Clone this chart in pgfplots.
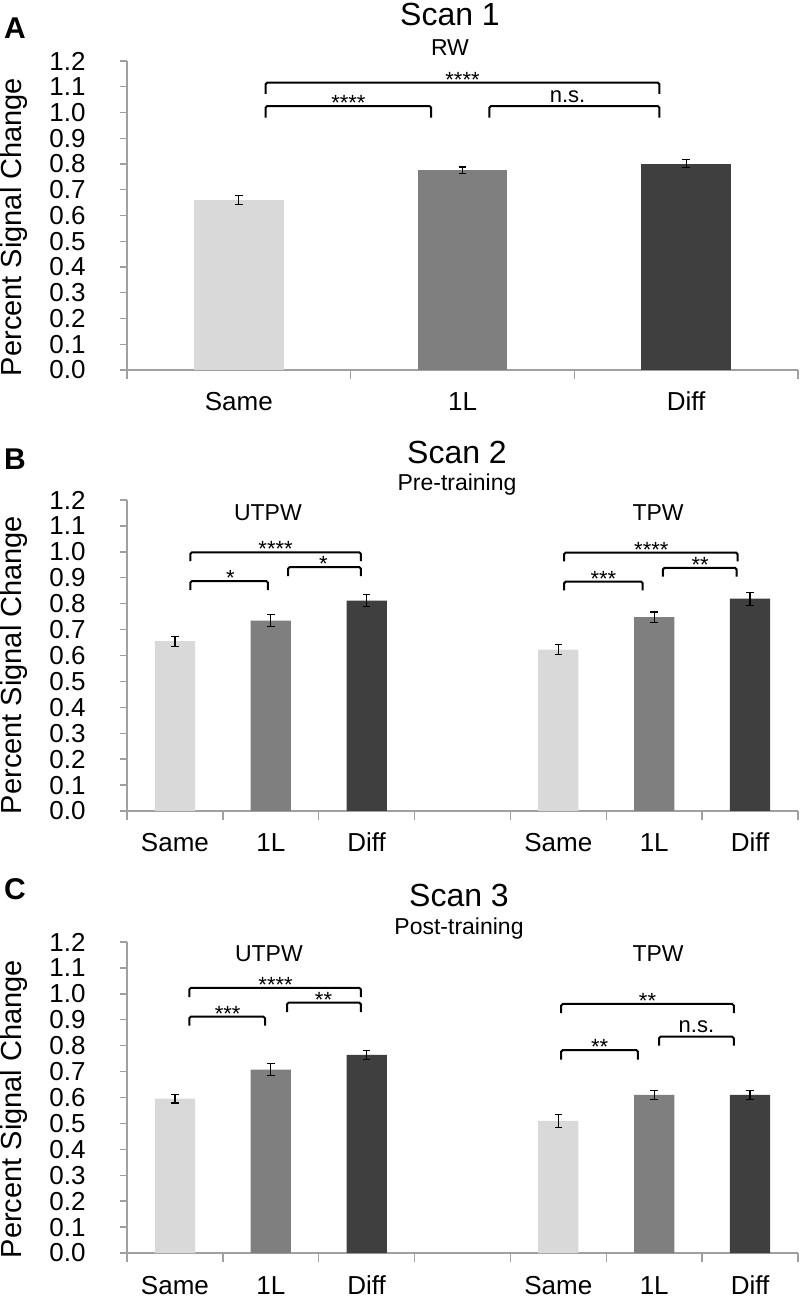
\documentclass[border=0pt]{standalone}
\usepackage{pgfplots}
\pgfplotsset{compat=1.18}
\usepackage{fontspec}
\setmainfont{Liberation Sans}
\newcommand{\fs}[1]{\fontsize{#1}{#1}\selectfont}
\definecolor{cSame}{HTML}{D9D9D9}
\definecolor{cOne}{HTML}{7F7F7F}
\definecolor{cDiff}{HTML}{3F3F3F}
\definecolor{axgray}{HTML}{A0A0A0}
\tikzset{
  brk/.style={draw=black, line width=1pt, rounded corners=0.8pt},
  star/.style={font=\fs{11}, anchor=base, inner sep=0pt, yshift=-2.3pt},
  ns/.style={font=\fs{11}, anchor=base, inner sep=0pt, yshift=1.8pt},
  grp/.style={font=\fs{11.5}, anchor=center, inner sep=0pt},
}
\pgfplotsset{
  panel/.style={
    scale only axis, width=335.5pt,
    ybar, bar width=0.4, bar shift=0pt,
    ymin=0, ymax=1.2,
    ytick={0,0.1,0.2,0.3,0.4,0.5,0.6,0.7,0.8,0.9,1.0,1.1,1.2},
    /pgf/number format/assume math mode=true,
    /pgf/number format/fixed, /pgf/number format/fixed zerofill, /pgf/number format/precision=1,
    every y tick label/.append style={font=\fs{13}, anchor=east, inner sep=0pt, xshift=-17pt},
    every x tick label/.append style={font=\fs{13}, inner sep=0pt, anchor=base, yshift=-17pt},
    axis x line=bottom, axis y line=left,
    axis line style={-, draw=axgray, line width=0.7pt},
    tick align=outside,
    major tick length=3.5pt, minor tick length=4.5pt,
    ytick style={draw=axgray, line width=0.7pt},
    major x tick style={draw=none},
    minor x tick style={draw=axgray, line width=0.7pt},
    enlargelimits=false, clip=false,
    every axis plot/.append style={draw=none,
      error bars/y dir=both, error bars/y explicit,
      error bars/error bar style={draw=black, line width=0.6pt},
      error bars/error mark options={draw=black, line width=0.6pt, mark size=1.9pt, rotate=90}},
  },
}
\begin{document}
\begin{tikzpicture}
\useasboundingbox (0,0) rectangle (400pt,649.5pt);

% ---------------- Panel A ----------------
\begin{axis}[panel, at={(63.5pt,464.5pt)}, anchor=south west, height=154.5pt,
  xmin=-0.5, xmax=2.5, xtick={0,1,2}, xticklabels={Same,1L,Diff},
  minor xtick={-0.5,0.5,1.5,2.5}]
\addplot[fill=cSame] coordinates {(0,0.659) +- (0,0.0175)};
\addplot[fill=cOne] coordinates {(1,0.775) +- (0,0.013)};
\addplot[fill=cDiff] coordinates {(2,0.801) +- (0,0.016)};
\draw[brk] (axis cs:0.12,1.072) -- (axis cs:0.12,1.116) -- (axis cs:1.88,1.116) -- (axis cs:1.88,1.072);
\draw[brk] (axis cs:0.12,0.980) -- (axis cs:0.12,1.025) -- (axis cs:0.86,1.025) -- (axis cs:0.86,0.980);
\draw[brk] (axis cs:1.12,0.980) -- (axis cs:1.12,1.025) -- (axis cs:1.88,1.025) -- (axis cs:1.88,0.980);
\node[star] at (axis cs:1.0,1.116) {****};
\node[star] at (axis cs:0.49,1.025) {****};
\node[ns] at (axis cs:1.47,1.025) {n.s.};
\end{axis}

% ---------------- Panel B ----------------
\begin{axis}[panel, at={(63.5pt,244pt)}, anchor=south west, height=155.5pt,
  bar width=0.42,
  xmin=-0.5, xmax=6.5, xtick={0,1,2,4,5,6}, xticklabels={Same,1L,Diff,Same,1L,Diff},
  minor xtick={-0.5,0.5,1.5,2.5,3.5,4.5,5.5,6.5}]
\addplot[fill=cSame] coordinates {(0,0.655) +- (0,0.019) (4,0.623) +- (0,0.019)};
\addplot[fill=cOne] coordinates {(1,0.735) +- (0,0.022) (5,0.748) +- (0,0.020)};
\addplot[fill=cDiff] coordinates {(2,0.812) +- (0,0.022) (6,0.819) +- (0,0.025)};
\node[grp] at (axis cs:0.97,1.15) {UTPW};
\node[grp] at (axis cs:5.04,1.15) {TPW};
% UTPW brackets
\draw[brk] (axis cs:0.16,0.964) -- (axis cs:0.16,0.998) -- (axis cs:1.94,0.998) -- (axis cs:1.94,0.964);
\draw[brk] (axis cs:0.16,0.852) -- (axis cs:0.16,0.887) -- (axis cs:0.97,0.887) -- (axis cs:0.97,0.852);
\draw[brk] (axis cs:1.18,0.906) -- (axis cs:1.18,0.941) -- (axis cs:1.94,0.941) -- (axis cs:1.94,0.906);
\node[star] at (axis cs:1.05,0.998) {****};
\node[star] at (axis cs:0.58,0.887) {*};
\node[star] at (axis cs:1.55,0.941) {*};
% TPW brackets
\draw[brk] (axis cs:4.06,0.963) -- (axis cs:4.06,0.997) -- (axis cs:5.87,0.997) -- (axis cs:5.87,0.963);
\draw[brk] (axis cs:4.06,0.851) -- (axis cs:4.06,0.885) -- (axis cs:4.88,0.885) -- (axis cs:4.88,0.851);
\draw[brk] (axis cs:5.09,0.904) -- (axis cs:5.09,0.938) -- (axis cs:5.86,0.938) -- (axis cs:5.86,0.904);
\node[star] at (axis cs:4.97,0.997) {****};
\node[star] at (axis cs:4.47,0.885) {***};
\node[star] at (axis cs:5.48,0.938) {**};
\end{axis}

% ---------------- Panel C ----------------
\begin{axis}[panel, at={(63.5pt,23pt)}, anchor=south west, height=155.5pt,
  bar width=0.42,
  xmin=-0.5, xmax=6.5, xtick={0,1,2,4,5,6}, xticklabels={Same,1L,Diff,Same,1L,Diff},
  minor xtick={-0.5,0.5,1.5,2.5,3.5,4.5,5.5,6.5}]
\addplot[fill=cSame] coordinates {(0,0.596) +- (0,0.017) (4,0.510) +- (0,0.025)};
\addplot[fill=cOne] coordinates {(1,0.708) +- (0,0.023) (5,0.610) +- (0,0.017)};
\addplot[fill=cDiff] coordinates {(2,0.764) +- (0,0.016) (6,0.610) +- (0,0.017)};
\node[grp] at (axis cs:0.98,1.155) {UTPW};
\node[grp] at (axis cs:5.04,1.155) {TPW};
% UTPW brackets
\draw[brk] (axis cs:0.15,0.987) -- (axis cs:0.15,1.023) -- (axis cs:1.94,1.023) -- (axis cs:1.94,0.987);
\draw[brk] (axis cs:0.15,0.877) -- (axis cs:0.15,0.912) -- (axis cs:0.94,0.912) -- (axis cs:0.94,0.877);
\draw[brk] (axis cs:1.17,0.929) -- (axis cs:1.17,0.966) -- (axis cs:1.94,0.966) -- (axis cs:1.94,0.929);
\node[star] at (axis cs:1.05,1.023) {****};
\node[star] at (axis cs:0.55,0.912) {***};
\node[star] at (axis cs:1.55,0.966) {**};
% TPW brackets
\draw[brk] (axis cs:4.03,0.926) -- (axis cs:4.03,0.961) -- (axis cs:5.83,0.961) -- (axis cs:5.83,0.926);
\draw[brk] (axis cs:4.03,0.746) -- (axis cs:4.03,0.783) -- (axis cs:4.83,0.783) -- (axis cs:4.83,0.746);
\draw[brk] (axis cs:5.05,0.800) -- (axis cs:5.05,0.835) -- (axis cs:5.83,0.835) -- (axis cs:5.83,0.800);
\node[star] at (axis cs:4.93,0.961) {**};
\node[star] at (axis cs:4.43,0.783) {**};
\node[ns] at (axis cs:5.44,0.835) {n.s.};
\end{axis}

% ---------------- Titles and labels ----------------
\node[font=\fs{15}\bfseries, inner sep=0pt] at (7.5pt,635.5pt) {A};
\node[font=\fs{15}\bfseries, inner sep=0pt] at (7.5pt,420pt) {B};
\node[font=\fs{15}\bfseries, inner sep=0pt] at (7.5pt,205pt) {C};

\node[font=\fs{16}, inner sep=0pt] at (225pt,642pt) {Scan 1};
\node[font=\fs{11.5}, inner sep=0pt] at (225pt,625.5pt) {RW};
\node[font=\fs{16}, inner sep=0pt] at (228.5pt,423.5pt) {Scan 2};
\node[font=\fs{11.5}, inner sep=0pt] at (228.5pt,407pt) {Pre-training};
\node[font=\fs{16}, inner sep=0pt] at (229.5pt,202pt) {Scan 3};
\node[font=\fs{11.5}, inner sep=0pt] at (229.5pt,185pt) {Post-training};

\node[font=\fs{14.5}, rotate=90, inner sep=0pt] at (7pt,536pt) {Percent Signal Change};
\node[font=\fs{14.5}, rotate=90, inner sep=0pt] at (7pt,317pt) {Percent Signal Change};
\node[font=\fs{14.5}, rotate=90, inner sep=0pt] at (7pt,95pt) {Percent Signal Change};
\end{tikzpicture}
\end{document}
